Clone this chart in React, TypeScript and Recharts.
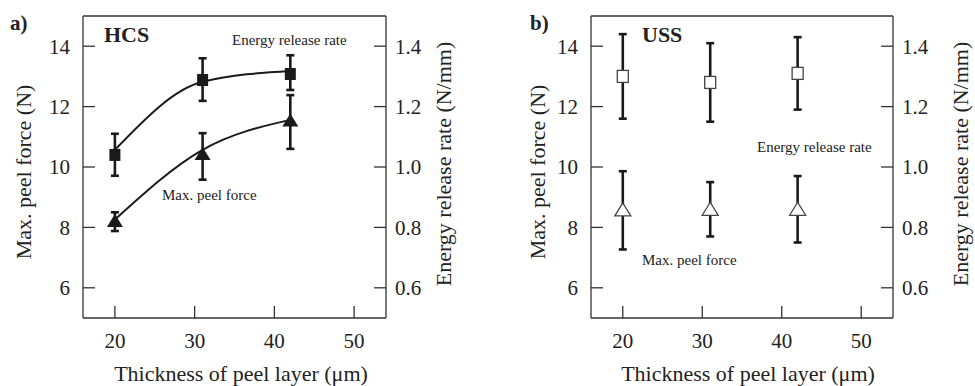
import { ComposedChart, Scatter, Line, XAxis, YAxis, ErrorBar, ReferenceLine } from 'recharts'

const FONT = 'Liberation Serif'
const INK = '#1a1a1a'

// shared axes
const thickness = [20, 31, 42]
const xTicks = [20, 30, 40, 50]
const forceTicks = [6, 8, 10, 12, 14]
const errTicks = [0.6, 0.8, 1.0, 1.2, 1.4]

// a) HCS  (force in N, energy release rate in N/mm)
const hcsForce = [8.21, 10.43, 11.54]
const hcsForceLow = [7.88, 9.58, 10.6]
const hcsForceHigh = [8.5, 11.12, 12.38]
const hcsForceFit = [8.26, 10.57, 11.56]
const hcsErr = [1.04, 1.288, 1.308]
const hcsErrLow = [0.971, 1.219, 1.255]
const hcsErrHigh = [1.11, 1.36, 1.37]
const hcsErrFit = [1.057, 1.282, 1.318]

// b) USS
const ussForce = [8.58, 8.6, 8.6]
const ussForceLow = [7.27, 7.7, 7.5]
const ussForceHigh = [9.86, 9.5, 9.7]
const ussErr = [1.3, 1.28, 1.31]
const ussErrLow = [1.16, 1.15, 1.19]
const ussErrHigh = [1.44, 1.41, 1.43]

const withBars = (vals: number[], low: number[], high: number[]) =>
  thickness.map((x, i) => ({ x, y: vals[i], e: [vals[i] - low[i], high[i] - vals[i]] }))

const curve = (vals: number[]) => thickness.map((x, i) => ({ x, y: vals[i] }))

const square = (filled: boolean) => (p: any) => (
  <rect
    x={p.cx - 5.5}
    y={p.cy - 6}
    width={11}
    height={12}
    fill={filled ? INK : '#fff'}
    stroke={filled ? INK : '#444'}
    strokeWidth={filled ? 0 : 1.3}
  />
)

const triangle = (filled: boolean) => (p: any) => (
  <polygon
    points={`${p.cx},${p.cy - 7} ${p.cx - 8},${p.cy + 6} ${p.cx + 8},${p.cy + 6}`}
    fill={filled ? INK : '#fff'}
    stroke={filled ? INK : '#444'}
    strokeWidth={filled ? 0 : 1.3}
  />
)

interface PanelProps {
  left: number
  width: number
  leftAxisW: number
  rightAxisW: number
  force: { x: number; y: number; e: number[] }[]
  err: { x: number; y: number; e: number[] }[]
  forceFit?: { x: number; y: number }[]
  errFit?: { x: number; y: number }[]
  filled: boolean
}

const tickStyle = { fontFamily: FONT, fontSize: 21, fill: '#222' }

function Panel({ left, width, leftAxisW, rightAxisW, force, err, forceFit, errFit, filled }: PanelProps) {
  return (
    <div style={{ position: 'absolute', left, top: 0 }}>
      <ComposedChart width={width} height={386} margin={{ top: 16, right: 0, bottom: 0, left: 0 }}>
        <XAxis
          type="number"
          dataKey="x"
          domain={[16, 54]}
          ticks={xTicks}
          allowDataOverflow
          height={68}
          tickSize={-12}
          tickMargin={27}
          tick={tickStyle}
          stroke="#333"
          strokeWidth={1.3}
        />
        <YAxis
          yAxisId="f"
          domain={[5, 15]}
          ticks={forceTicks}
          allowDataOverflow
          width={leftAxisW}
          tickSize={-12}
          tickMargin={25}
          tick={tickStyle}
          stroke="#333"
          strokeWidth={1.3}
        />
        <YAxis
          yAxisId="g"
          orientation="right"
          domain={[0.5, 1.5]}
          ticks={errTicks}
          allowDataOverflow
          width={rightAxisW}
          tickSize={-12}
          tickMargin={21}
          tick={tickStyle}
          tickFormatter={(v: number) => v.toFixed(1)}
          stroke="#333"
          strokeWidth={1.3}
        />
        <ReferenceLine yAxisId="f" y={15} stroke="#333" strokeWidth={1.3} />
        {errFit && (
          <Line
            yAxisId="g"
            data={errFit}
            dataKey="y"
            type="monotoneX"
            stroke={INK}
            strokeWidth={2}
            dot={false}
            activeDot={false}
            isAnimationActive={false}
          />
        )}
        {forceFit && (
          <Line
            yAxisId="f"
            data={forceFit}
            dataKey="y"
            type="monotoneX"
            stroke={INK}
            strokeWidth={2}
            dot={false}
            activeDot={false}
            isAnimationActive={false}
          />
        )}
        <Scatter yAxisId="g" data={err} dataKey="y" shape={square(filled)} isAnimationActive={false}>
          <ErrorBar dataKey="e" direction="y" width={4} stroke={INK} strokeWidth={2.6} isAnimationActive={false} />
        </Scatter>
        <Scatter yAxisId="f" data={force} dataKey="y" shape={triangle(filled)} isAnimationActive={false}>
          <ErrorBar dataKey="e" direction="y" width={4} stroke={INK} strokeWidth={2.6} isAnimationActive={false} />
        </Scatter>
      </ComposedChart>
    </div>
  )
}

export default function App() {
  return (
    <div style={{ position: 'absolute', left: 0, top: 0, width: 975, height: 386, background: '#fff' }}>
      <Panel
        left={0}
        width={490}
        leftAxisW={83}
        rightAxisW={104}
        force={withBars(hcsForce, hcsForceLow, hcsForceHigh)}
        err={withBars(hcsErr, hcsErrLow, hcsErrHigh)}
        forceFit={curve(hcsForceFit)}
        errFit={curve(hcsErrFit)}
        filled
      />
      <Panel
        left={490}
        width={485}
        leftAxisW={101}
        rightAxisW={82}
        force={withBars(ussForce, ussForceLow, ussForceHigh)}
        err={withBars(ussErr, ussErrLow, ussErrHigh)}
        filled={false}
      />
      <svg width={975} height={386} style={{ position: 'absolute', left: 0, top: 0, pointerEvents: 'none' }}>
        <g fill="#222" fontFamily={FONT}>
          <text x={10} y={30} fontSize={21} fontWeight="bold">a)</text>
          <text x={104} y={41.5} fontSize={22} fontWeight="bold">HCS</text>
          <text x={232} y={44.5} fontSize={15}>Energy release rate</text>
          <text x={162} y={200} fontSize={15}>Max. peel force</text>
          <text transform="translate(31,172) rotate(-90)" textAnchor="middle" fontSize={22}>Max. peel force (N)</text>
          <text transform="translate(451,164) rotate(-90)" textAnchor="middle" fontSize={22}>Energy release rate (N/mm)</text>
          <text x={241} y={381} textAnchor="middle" fontSize={22}>Thickness of peel layer (μm)</text>

          <text x={530} y={30} fontSize={21} fontWeight="bold">b)</text>
          <text x={642} y={41.5} fontSize={22} fontWeight="bold">USS</text>
          <text x={757} y={151.5} fontSize={15}>Energy release rate</text>
          <text x={642} y={265} fontSize={15}>Max. peel force</text>
          <text transform="translate(545,172) rotate(-90)" textAnchor="middle" fontSize={22}>Max. peel force (N)</text>
          <text transform="translate(968,164) rotate(-90)" textAnchor="middle" fontSize={22}>Energy release rate (N/mm)</text>
          <text x={748} y={381} textAnchor="middle" fontSize={22}>Thickness of peel layer (μm)</text>
        </g>
      </svg>
    </div>
  )
}
